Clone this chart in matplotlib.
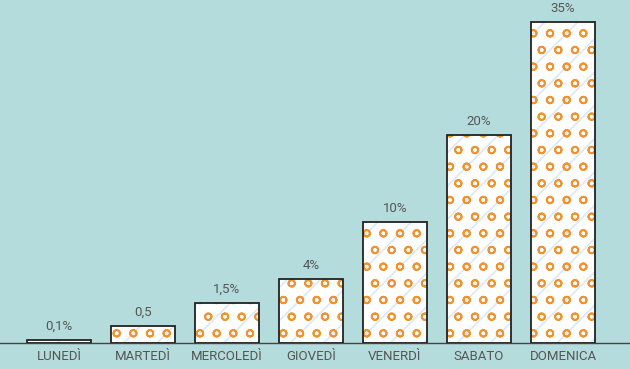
import matplotlib; matplotlib.use('Agg')
import matplotlib.pyplot as plt
import numpy as np

plt.rcParams['font.family'] = ['Roboto', 'DejaVu Sans']
plt.rcParams['hatch.linewidth'] = 1.3

giorni = ['LUNEDÌ', 'MARTEDÌ', 'MERCOLEDÌ', 'GIOVEDÌ', 'VENERDÌ', 'SABATO', 'DOMENICA']
etichette = ['0,1%', '0,5', '1,5%', '4%', '10%', '20%', '35%']
# altezze delle barre come disegnate (non proporzionali alle etichette)
altezze = [0.33, 1.85, 4.36, 6.98, 13.2, 22.7, 35.0]

bg = '#b5dcdc'
fig = plt.figure(figsize=(6.3, 3.69), dpi=100, facecolor=bg)
ax = fig.add_axes([0, 26/369, 1, 343/369])
ax.set_facecolor(bg)

x = np.arange(len(giorni))
w = 0.76
ax.bar(x, altezze, w, color='white', linewidth=0, zorder=2)
ax.bar(x, altezze, w, color='none', edgecolor='#dde9f3', hatch='/', linewidth=0, zorder=2.5)
ax.bar(x, altezze, w, color='none', edgecolor='#f0922e', hatch='o', linewidth=0, zorder=3)
ax.bar(x, altezze, w, color='none', edgecolor='#222222', linewidth=1.3, zorder=4)

for xi, h, t in zip(x, altezze, etichette):
    ax.annotate(t, (xi, h), xytext=(0, 5), textcoords='offset points',
                ha='center', va='bottom', fontsize=9.5, color='#555555')

ax.set_xlim(-59/84, (630-59)/84)
ax.set_ylim(0, 35*343/321)
ax.set_xticks(x)
ax.set_xticklabels(giorni, fontsize=9.5, color='#555555')
ax.tick_params(axis='x', length=0, pad=5)
ax.set_yticks([])
for s in ['top', 'right', 'left']:
    ax.spines[s].set_visible(False)
ax.spines['bottom'].set_color('#444444')
ax.spines['bottom'].set_linewidth(1)

plt.savefig('out.png', dpi=100, facecolor=bg)
